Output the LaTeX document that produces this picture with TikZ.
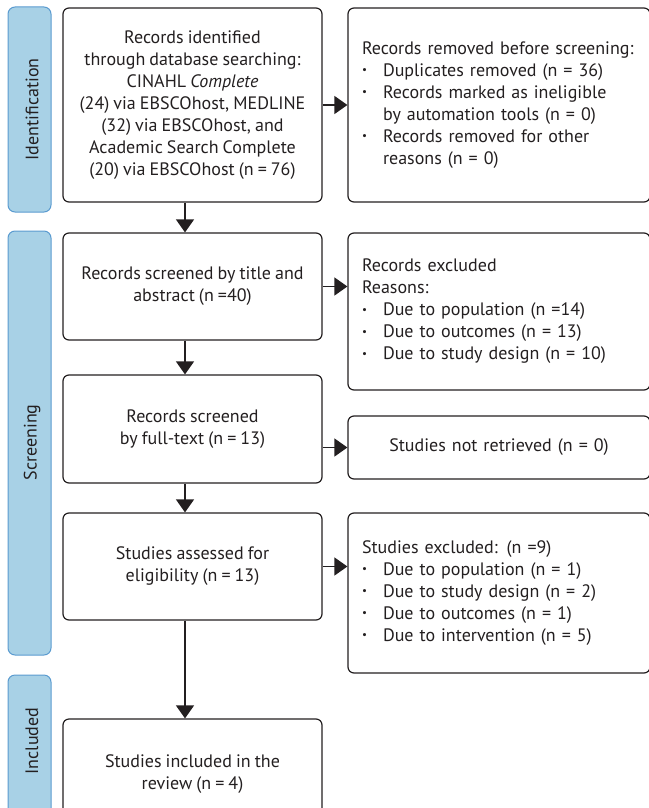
\documentclass[tikz,border=0pt]{standalone}
\usepackage{fontspec}
\setmainfont[WordSpace=0.85]{PT Sans}
\usetikzlibrary{arrows.meta}
\definecolor{bandblue}{HTML}{A8D1E6}
\definecolor{bandedge}{HTML}{5B9BD0}
\definecolor{inkgray}{HTML}{231F20}
\newcommand{\bul}{\makebox[21pt][l]{\raisebox{0.3ex}{\fontsize{11}{11}\selectfont\textbullet}}}
\newcommand{\ind}{\hspace*{21pt}}

\begin{document}
\begin{tikzpicture}[x=1pt, y=-1pt, >={Triangle[length=13pt, width=18pt]},
  txt/.style={font=\fontsize{18}{22}\selectfont, text=inkgray},
  mainbox/.style={txt, draw=inkgray, line width=1.2pt, rounded corners=6pt,
    align=center, minimum width=259pt, inner sep=0pt},
  sidebox/.style={txt, draw=inkgray, line width=1.2pt, rounded corners=6pt,
    align=left, text width=274pt, inner xsep=14pt, inner ysep=0pt},
  band/.style={fill=bandblue, draw=bandedge, line width=1pt, rounded corners=7pt},
  bandlabel/.style={txt, rotate=90},
  arr/.style={->, line width=1.3pt, draw=inkgray}]
  \useasboundingbox (0,0) rectangle (648,808);

  % Phase bands
  \draw[band] (8,7) rectangle (51,212);
  \node[bandlabel] (identlab) at (32,109.5) {Identification};
  \draw[band] (8,231) rectangle (51,655);
  \node[bandlabel] (screenlab) at (32,442.5) {Screening};
  \draw[band] (8,675) rectangle (51,840);
  \node[bandlabel] (incllab) at (32,741) {Included};

  % Main column
  \node[mainbox, minimum height=194pt] (ident) at (192.5,105)
    {Records identified\\through database searching:\\CINAHL \textit{Complete}\\
     (24) via EBSCOhost, MEDLINE\\(32) via EBSCOhost, and\\
     Academic Search Complete\\(20) via EBSCOhost (n = 76)};
  \node[mainbox, minimum height=107pt] (title) at (192.5,286.5)
    {Records screened by title and\\abstract (n =40)};
  \node[mainbox, minimum height=108pt] (full) at (192.5,429)
    {Records screened\\by full-text (n = 13)};
  \node[mainbox, minimum height=107pt] (elig) at (192.5,566.5)
    {Studies assessed for\\eligibility (n = 13)};
  \node[mainbox, minimum height=110pt] (incl) at (192.5,774)
    {Studies included in the\\review (n = 4)};

  % Side column
  \node[sidebox, minimum height=194pt] (removed) at (499,105)
    {Records removed before screening:\\
     \bul Duplicates removed (n = 36)\\
     \bul Records marked as ineligible\\
     \ind by automation tools (n = 0)\\
     \bul Records removed for other\\
     \ind reasons (n = 0)};
  \node[sidebox, minimum height=157pt] (excl) at (499,311.5)
    {Records excluded\\Reasons:\\
     \bul Due to population (n =14)\\
     \bul Due to outcomes (n = 13)\\
     \bul Due to study design (n = 10)};
  \node[sidebox, minimum height=63pt, align=center] (notret) at (499,447.5)
    {Studies not retrieved (n = 0)};
  \node[sidebox, minimum height=160pt] (studexcl) at (499,593)
    {Studies excluded: (n =9)\\
     \bul Due to population (n = 1)\\
     \bul Due to study design (n = 2)\\
     \bul Due to outcomes (n = 1)\\
     \bul Due to intervention (n = 5)};

  % Downward flow
  \draw[arr] ([xshift=-7.5pt]ident.south) -- ([xshift=-7.5pt]title.north);
  \draw[arr] ([xshift=-7.5pt]title.south) -- ([xshift=-7.5pt]full.north);
  \draw[arr] ([xshift=-7.5pt]full.south) -- ([xshift=-7.5pt]elig.north);
  \draw[arr] ([xshift=-7.5pt]elig.south) -- ([xshift=-7.5pt]incl.north);

  % Side exits
  \draw[arr] (ident.east) -- (ident.east -| removed.west);
  \draw[arr] (title.east) -- (title.east -| excl.west);
  \draw[arr] (full.east |- notret.west) -- (notret.west);
  \draw[arr] (elig.east) -- (elig.east -| studexcl.west);
\end{tikzpicture}
\end{document}
